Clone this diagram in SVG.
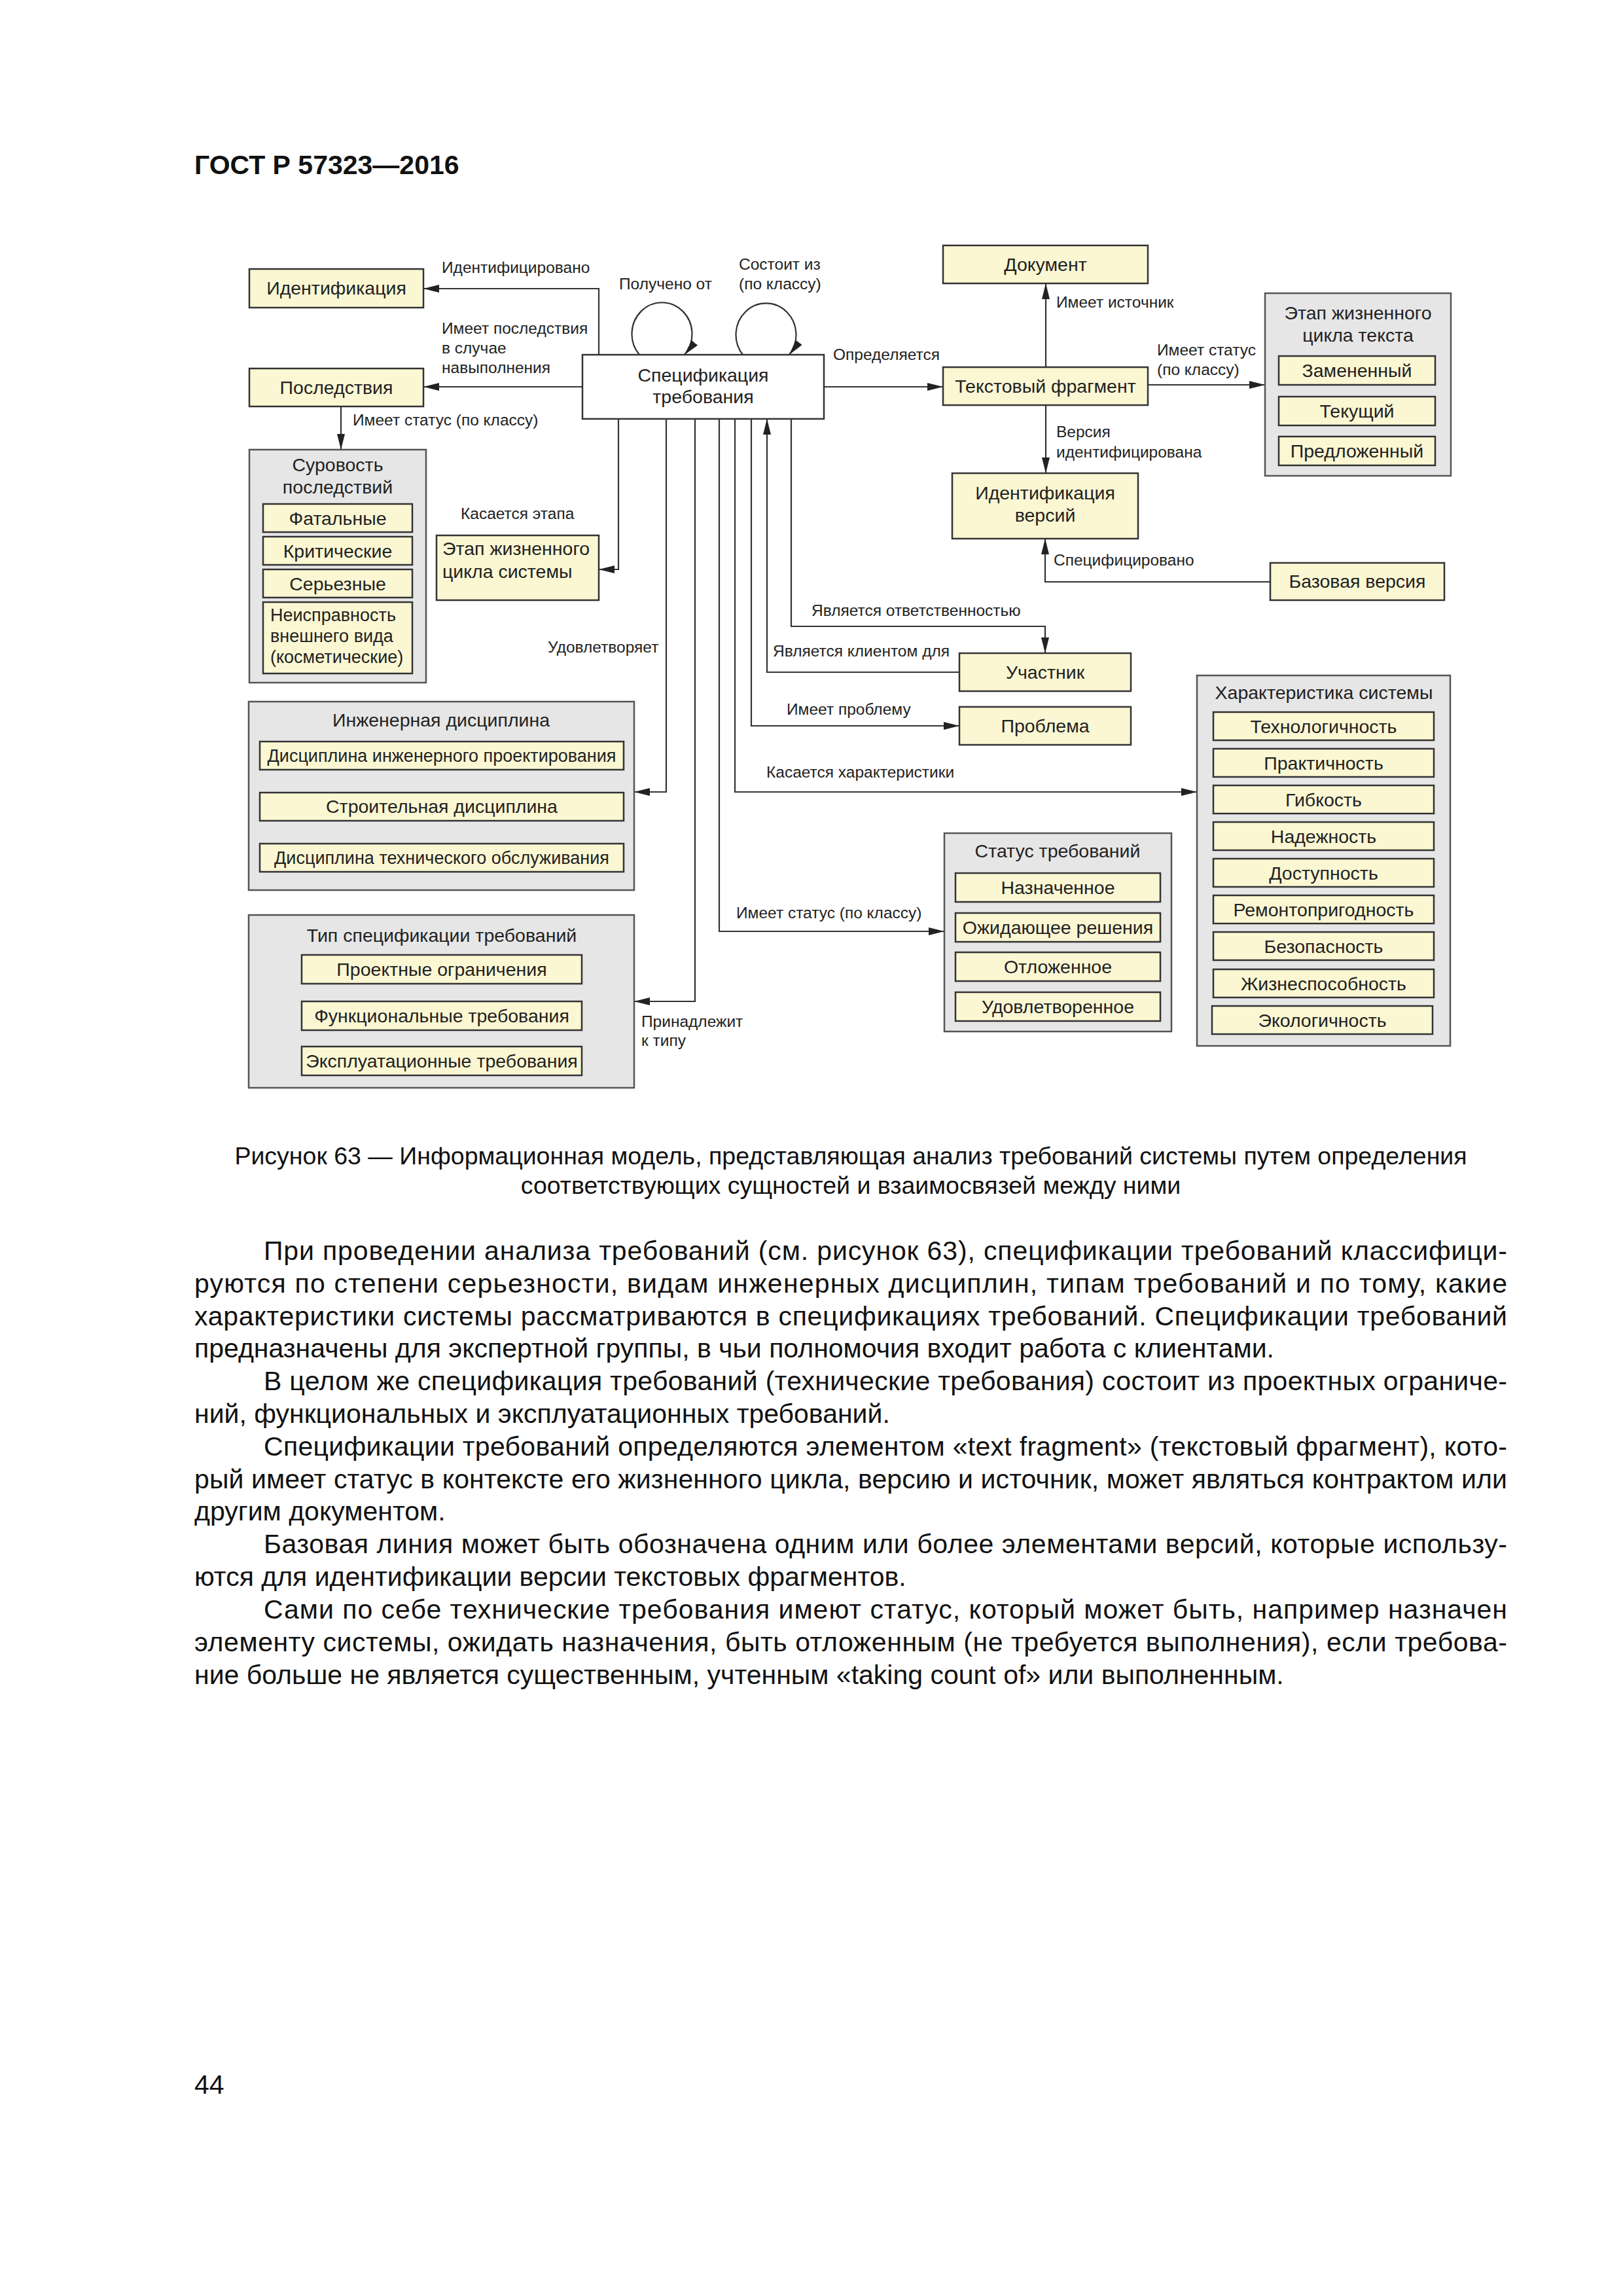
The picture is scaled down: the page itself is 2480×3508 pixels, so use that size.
<svg xmlns="http://www.w3.org/2000/svg" width="2480" height="3508" viewBox="0 0 2480 3508">
<defs>
<style>
.box{fill:#fbf7d3;stroke:#333;stroke-width:2.5}
.spec{fill:#fff;stroke:#333;stroke-width:2.5}
.cont{fill:#e6e6e6;stroke:#555;stroke-width:2.5}
.t{font-family:"Liberation Sans",Arial,sans-serif;font-size:28.5px;fill:#222}
.s{font-size:27px}
.c{text-anchor:middle}
.lbl{font-family:"Liberation Sans",Arial,sans-serif;font-size:24.5px;fill:#222}
.ln{fill:none;stroke:#333;stroke-width:2.2}
.body{font-family:"Liberation Sans",Arial,sans-serif;font-size:41px;fill:#111}
.cap{font-family:"Liberation Sans",Arial,sans-serif;font-size:37.5px;fill:#111;text-anchor:middle}
.hdr{font-family:"Liberation Sans",Arial,sans-serif;font-size:41px;font-weight:bold;fill:#111}
</style>
<marker id="ah" markerUnits="userSpaceOnUse" markerWidth="26" markerHeight="14" refX="24" refY="7" orient="auto"><path d="M0,1 L24,7 L0,13 z" fill="#222"/></marker>
</defs>
<rect x="0" y="0" width="2480" height="3508" fill="#fff"/>
<text class="hdr" x="297" y="266">ГОСТ Р 57323—2016</text>

<g id="connectors">
<path class="ln" d="M915,542 V441 H647" marker-end="url(#ah)"/>
<path class="ln" d="M890,591 H647" marker-end="url(#ah)"/>
<path class="ln" d="M521,621 V687" marker-end="url(#ah)"/>
<path class="ln" d="M977,542 A46,48 0 1 1 1046,542" marker-end="url(#ah)"/>
<path class="ln" d="M1135,542 A46,48 0 1 1 1206,542" marker-end="url(#ah)"/>
<path class="ln" d="M1259,591 H1441" marker-end="url(#ah)"/>
<path class="ln" d="M1598,561 V433" marker-end="url(#ah)"/>
<path class="ln" d="M1754,588 H1933" marker-end="url(#ah)"/>
<path class="ln" d="M1598,619 V723" marker-end="url(#ah)"/>
<path class="ln" d="M1941,889 H1597 V823" marker-end="url(#ah)"/>
<path class="ln" d="M945,640 V870 H915" marker-end="url(#ah)"/>
<path class="ln" d="M1018,640 V1210 H969" marker-end="url(#ah)"/>
<path class="ln" d="M1062,640 V1530 H969" marker-end="url(#ah)"/>
<path class="ln" d="M1099,640 V1423 H1443" marker-end="url(#ah)"/>
<path class="ln" d="M1123,640 V1210 H1829" marker-end="url(#ah)"/>
<path class="ln" d="M1148,640 V1109 H1466" marker-end="url(#ah)"/>
<path class="ln" d="M1466,1027 H1172 V640" marker-end="url(#ah)"/>
<path class="ln" d="M1209,640 V957 H1597 V998" marker-end="url(#ah)"/>
<g class="lbl">
<text x="675" y="417">Идентифицировано</text>
<text x="675" y="510">Имеет последствия</text>
<text x="675" y="540">в случае</text>
<text x="675" y="570">навыполнения</text>
<text x="539" y="650">Имеет статус (по классу)</text>
<text x="946" y="442">Получено от</text>
<text x="1129" y="412">Состоит из</text>
<text x="1129" y="442">(по классу)</text>
<text x="1273" y="550">Определяется</text>
<text x="1614" y="470">Имеет источник</text>
<text x="1768" y="543">Имеет статус</text>
<text x="1768" y="573">(по классу)</text>
<text x="1614" y="668">Версия</text>
<text x="1614" y="699">идентифицирована</text>
<text x="1610" y="864">Специфицировано</text>
<text x="704" y="793">Касается этапа</text>
<text x="837" y="997">Удовлетворяет</text>
<text x="1240" y="941">Является ответственностью</text>
<text x="1181" y="1003">Является клиентом для</text>
<text x="1202" y="1092">Имеет проблему</text>
<text x="1171" y="1188">Касается характеристики</text>
<text x="1125" y="1403">Имеет статус (по классу)</text>
<text x="980" y="1569">Принадлежит</text>
<text x="980" y="1598">к типу</text>
</g>
</g>

<g id="n-identifikatsiya"><rect class="box" x="381" y="411" width="266" height="59"/><text class="t c" x="514" y="450">Идентификация</text></g>
<g id="n-posledstviya"><rect class="box" x="381" y="563" width="266" height="58"/><text class="t c" x="514" y="602">Последствия</text></g>
<g id="n-spec"><rect class="spec" x="890" y="542" width="369" height="98"/><text class="t c" x="1074.5" y="583">Спецификация</text><text class="t c" x="1074.5" y="616">требования</text></g>
<g id="n-document"><rect class="box" x="1441" y="375" width="313" height="58"/><text class="t c" x="1597.5" y="414">Документ</text></g>
<g id="n-text-fragment"><rect class="box" x="1441" y="561" width="313" height="58"/><text class="t c" x="1597.5" y="600">Текстовый фрагмент</text></g>
<g id="n-text-lifecycle">
<rect class="cont" x="1933" y="448" width="284" height="279"/>
<text class="t c" x="2075" y="488">Этап жизненного</text><text class="t c" x="2075" y="522">цикла текста</text>
<rect class="box" x="1954" y="544" width="239" height="44"/><text class="t c" x="2073.5" y="576">Замененный</text>
<rect class="box" x="1954" y="606" width="239" height="44"/><text class="t c" x="2073.5" y="638">Текущий</text>
<rect class="box" x="1954" y="667" width="239" height="44"/><text class="t c" x="2073.5" y="699">Предложенный</text>
</g>
<g id="n-version-id"><rect class="box" x="1455" y="723" width="284" height="100"/><text class="t c" x="1597" y="763">Идентификация</text><text class="t c" x="1597" y="797">версий</text></g>
<g id="n-baseline"><rect class="box" x="1941" y="860" width="266" height="57"/><text class="t c" x="2074" y="898">Базовая версия</text></g>
<g id="n-severity">
<rect class="cont" x="381" y="687" width="270" height="356"/>
<text class="t c" x="516" y="720">Суровость</text><text class="t c" x="516" y="754">последствий</text>
<rect class="box" x="402" y="770" width="228" height="43"/><text class="t c" x="516" y="802">Фатальные</text>
<rect class="box" x="402" y="820" width="228" height="43"/><text class="t c" x="516" y="852">Критические</text>
<rect class="box" x="402" y="870" width="228" height="43"/><text class="t c" x="516" y="902">Серьезные</text>
<rect class="box" x="402" y="920" width="228" height="109"/>
<text class="t s" x="413" y="949">Неисправность</text><text class="t s" x="413" y="981">внешнего вида</text><text class="t s" x="413" y="1013">(косметические)</text>
</g>
<g id="n-system-lifecycle"><rect class="box" x="667" y="818" width="248" height="99"/><text class="t" x="676" y="848">Этап жизненного</text><text class="t" x="676" y="883">цикла системы</text></g>
<g id="n-participant"><rect class="box" x="1466" y="998" width="262" height="58"/><text class="t c" x="1597" y="1037">Участник</text></g>
<g id="n-problem"><rect class="box" x="1466" y="1080" width="262" height="58"/><text class="t c" x="1597" y="1119">Проблема</text></g>
<g id="n-characteristics">
<rect class="cont" x="1829" y="1032" width="387" height="566"/>
<text class="t c" x="2023" y="1068">Характеристика системы</text>
<rect class="box" x="1854" y="1088" width="337" height="43"/><text class="t c" x="2022.5" y="1119.5">Технологичность</text>
<rect class="box" x="1854" y="1144" width="337" height="43"/><text class="t c" x="2022.5" y="1175.5">Практичность</text>
<rect class="box" x="1854" y="1200" width="337" height="43"/><text class="t c" x="2022.5" y="1231.5">Гибкость</text>
<rect class="box" x="1854" y="1256" width="337" height="43"/><text class="t c" x="2022.5" y="1287.5">Надежность</text>
<rect class="box" x="1854" y="1312" width="337" height="43"/><text class="t c" x="2022.5" y="1343.5">Доступность</text>
<rect class="box" x="1854" y="1368" width="337" height="43"/><text class="t c" x="2022.5" y="1399.5">Ремонтопригодность</text>
<rect class="box" x="1854" y="1424" width="337" height="43"/><text class="t c" x="2022.5" y="1455.5">Безопасность</text>
<rect class="box" x="1854" y="1481" width="337" height="43"/><text class="t c" x="2022.5" y="1512.5">Жизнеспособность</text>
<rect class="box" x="1852" y="1537" width="337" height="43"/><text class="t c" x="2020.5" y="1568.5">Экологичность</text>
</g>
<g id="n-eng-discipline">
<rect class="cont" x="380" y="1072" width="589" height="288"/>
<text class="t c" x="674" y="1110">Инженерная дисциплина</text>
<rect class="box" x="397" y="1133" width="556" height="43"/><text class="t s c" x="675" y="1164">Дисциплина инженерного проектирования</text>
<rect class="box" x="397" y="1211" width="556" height="43"/><text class="t c" x="675" y="1242">Строительная дисциплина</text>
<rect class="box" x="397" y="1289" width="556" height="43"/><text class="t s c" x="675" y="1320">Дисциплина технического обслуживания</text>
</g>
<g id="n-req-type">
<rect class="cont" x="380" y="1398" width="589" height="264"/>
<text class="t c" x="675" y="1439">Тип спецификации требований</text>
<rect class="box" x="461" y="1459" width="428" height="44"/><text class="t c" x="675" y="1491">Проектные ограничения</text>
<rect class="box" x="461" y="1530" width="428" height="44"/><text class="t c" x="675" y="1562">Функциональные требования</text>
<rect class="box" x="461" y="1599" width="428" height="44"/><text class="t c" x="675" y="1631">Эксплуатационные требования</text>
</g>
<g id="n-req-status">
<rect class="cont" x="1443" y="1273" width="347" height="303"/>
<text class="t c" x="1616" y="1310">Статус требований</text>
<rect class="box" x="1460" y="1334" width="313" height="44"/><text class="t c" x="1616.5" y="1366">Назначенное</text>
<rect class="box" x="1460" y="1395" width="313" height="44"/><text class="t c" x="1616.5" y="1427">Ожидающее решения</text>
<rect class="box" x="1460" y="1455" width="313" height="44"/><text class="t c" x="1616.5" y="1487">Отложенное</text>
<rect class="box" x="1460" y="1516" width="313" height="44"/><text class="t c" x="1616.5" y="1548">Удовлетворенное</text>
</g>

<text class="cap" x="1300" y="1779">Рисунок 63 — Информационная модель, представляющая анализ требований системы путем определения</text>
<text class="cap" x="1300" y="1824">соответствующих сущностей и взаимосвязей между ними</text>

<g class="body">
<text x="403" y="1925" textLength="1900" lengthAdjust="spacing">При проведении анализа требований (см. рисунок 63), спецификации требований классифици-</text>
<text x="297" y="1975" textLength="2006" lengthAdjust="spacing">руются по степени серьезности, видам инженерных дисциплин, типам требований и по тому, какие</text>
<text x="297" y="2025" textLength="2006" lengthAdjust="spacing">характеристики системы рассматриваются в спецификациях требований. Спецификации требований</text>
<text x="297" y="2074">предназначены для экспертной группы, в чьи полномочия входит работа с клиентами.</text>
<text x="403" y="2124" textLength="1900" lengthAdjust="spacing">В целом же спецификация требований (технические требования) состоит из проектных ограниче-</text>
<text x="297" y="2174">ний, функциональных и эксплуатационных требований.</text>
<text x="403" y="2224" textLength="1900" lengthAdjust="spacing">Спецификации требований определяются элементом «text fragment» (текстовый фрагмент), кото-</text>
<text x="297" y="2274" textLength="2006" lengthAdjust="spacing">рый имеет статус в контексте его жизненного цикла, версию и источник, может являться контрактом или</text>
<text x="297" y="2323">другим документом.</text>
<text x="403" y="2373" textLength="1900" lengthAdjust="spacing">Базовая линия может быть обозначена одним или более элементами версий, которые использу-</text>
<text x="297" y="2423">ются для идентификации версии текстовых фрагментов.</text>
<text x="403" y="2473" textLength="1900" lengthAdjust="spacing">Сами по себе технические требования имеют статус, который может быть, например назначен</text>
<text x="297" y="2523" textLength="2006" lengthAdjust="spacing">элементу системы, ожидать назначения, быть отложенным (не требуется выполнения), если требова-</text>
<text x="297" y="2573">ние больше не является существенным, учтенным «taking count of» или выполненным.</text>
</g>
<text class="body" x="297" y="3199">44</text>
</svg>
